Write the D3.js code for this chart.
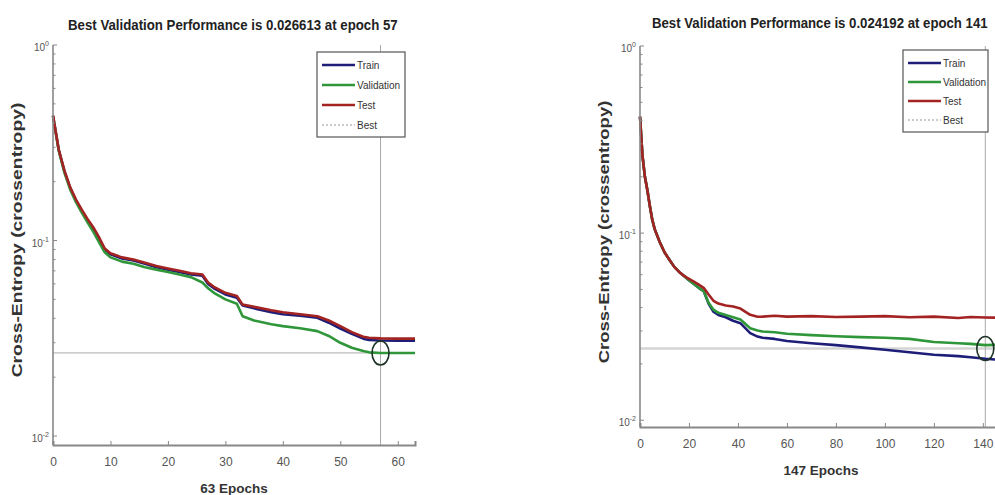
<!DOCTYPE html>
<html>
<head>
<meta charset="utf-8">
<script src="https://cdnjs.cloudflare.com/ajax/libs/d3/7.8.5/d3.min.js"></script>
<style>
body { margin: 0; background: #fff; }
svg { display: block; font-family: "Liberation Sans", Arial, sans-serif; }
</style>
</head>
<body>
<script>
// ---- left run (63 epochs) ----
var epochsA = [0, 1, 2, 3, 4, 5, 6, 7, 8, 9, 10, 12, 14, 16, 18, 20, 22, 24, 26, 27, 28, 30, 32, 33, 35, 38, 40, 43, 46, 48, 50, 52, 54, 55, 57, 60, 63];
var trainA = [0.434, 0.29, 0.225, 0.185, 0.16, 0.142, 0.127, 0.115, 0.102, 0.09, 0.085, 0.081, 0.079, 0.076, 0.073, 0.071, 0.069, 0.067, 0.066, 0.06, 0.057, 0.053, 0.051, 0.0465, 0.045, 0.043, 0.042, 0.0412, 0.0403, 0.038, 0.0355, 0.0333, 0.0315, 0.031, 0.0308, 0.0307, 0.0307];
var validA = [0.434, 0.288, 0.222, 0.182, 0.157, 0.139, 0.124, 0.111, 0.098, 0.087, 0.082, 0.078, 0.076, 0.073, 0.071, 0.069, 0.067, 0.065, 0.061, 0.057, 0.054, 0.05, 0.0475, 0.041, 0.039, 0.0373, 0.0365, 0.0356, 0.0344, 0.0325, 0.03, 0.0283, 0.0272, 0.0268, 0.0266, 0.0266, 0.0266];
var testA = [0.436, 0.292, 0.227, 0.187, 0.162, 0.144, 0.129, 0.117, 0.104, 0.091, 0.086, 0.082, 0.08, 0.077, 0.074, 0.072, 0.07, 0.068, 0.067, 0.061, 0.058, 0.054, 0.052, 0.047, 0.0458, 0.044, 0.043, 0.042, 0.041, 0.039, 0.0365, 0.034, 0.0322, 0.0318, 0.0316, 0.0315, 0.0315];
var bestEpochA = 57, bestValA = 0.026613;
var xTicksA = [0, 10, 20, 30, 40, 50, 60];

// ---- right run (147 epochs) ----
var epochsB = [0, 1, 2, 3, 4, 5, 6, 8, 10, 12, 14, 16, 18, 20, 22, 24, 26, 28, 30, 32, 35, 38, 41, 45, 48, 50, 55, 60, 70, 80, 90, 100, 110, 120, 130, 135, 141, 147];
var trainB = [0.419, 0.26, 0.2, 0.17, 0.14, 0.118, 0.105, 0.09, 0.079, 0.072, 0.066, 0.062, 0.059, 0.056, 0.0535, 0.051, 0.049, 0.042, 0.038, 0.0365, 0.0355, 0.034, 0.033, 0.0292, 0.028, 0.0276, 0.0272, 0.0265, 0.0258, 0.0252, 0.0245, 0.0238, 0.0231, 0.0224, 0.022, 0.0217, 0.0213, 0.021];
var validB = [0.419, 0.26, 0.2, 0.17, 0.14, 0.118, 0.105, 0.09, 0.079, 0.072, 0.066, 0.062, 0.059, 0.056, 0.0535, 0.051, 0.049, 0.0425, 0.039, 0.0375, 0.0365, 0.0355, 0.0345, 0.031, 0.0302, 0.0298, 0.0295, 0.029, 0.0285, 0.0281, 0.0278, 0.0276, 0.0272, 0.0262, 0.0258, 0.0256, 0.0252, 0.0253];
var testB = [0.419, 0.26, 0.2, 0.17, 0.14, 0.118, 0.105, 0.09, 0.079, 0.072, 0.066, 0.062, 0.059, 0.057, 0.055, 0.053, 0.051, 0.047, 0.0435, 0.042, 0.041, 0.0405, 0.0395, 0.0366, 0.0357, 0.0358, 0.0362, 0.0358, 0.036, 0.0356, 0.0358, 0.036, 0.0355, 0.0358, 0.0352, 0.0356, 0.0354, 0.0353];
var bestEpochB = 141, bestValB = 0.024192;
var xTicksB = [0, 20, 40, 60, 80, 100, 120, 140];

// shared
var yTicks = [1, 0.1, 0.01];
var yTickExp = ["0", "-1", "-2"];
var legendNames = ["Train", "Validation", "Test", "Best"];
var color = { Train: "#1e1e78", Validation: "#2f973a", Test: "#a32323", Best: "#999" };

var svg = d3.select("body").append("svg")
  .attr("width", 995)
  .attr("height", 495);

// squeeze a text horizontally so it spans exactly w pixels
function fitText(sel, x, y, w, rotate) {
  var natural = sel.node().getComputedTextLength();
  var s = w / natural;
  if (rotate) sel.attr("transform", "translate(" + x + "," + y + ") rotate(-90) scale(" + s + ",1)");
  else sel.attr("transform", "translate(" + x + "," + y + ") scale(" + s + ",1)");
}

function drawPanel(p) {
  var g = svg.append("g");

  // scales
  var x = d3.scaleLinear().domain([0, p.xMax]).range([p.left, p.right]);
  var y = d3.scaleLog().domain([p.yMin, 1]).range([p.bottom, p.top]);

  // best lines (drawn under the curves)
  g.append("line")
    .attr("x1", p.left).attr("x2", p.right)
    .attr("y1", y(p.bestVal)).attr("y2", y(p.bestVal))
    .attr("stroke", p.bestColor).attr("stroke-width", p.bestWidth);
  g.append("line")
    .attr("x1", x(p.bestEpoch)).attr("x2", x(p.bestEpoch))
    .attr("y1", p.top).attr("y2", p.bottom)
    .attr("stroke", "#aaa").attr("stroke-width", 1);

  // curves
  var line = d3.line()
    .x(function(d) { return x(d[0]); })
    .y(function(d) { return y(d[1]); });
  [["Train", p.train], ["Validation", p.valid], ["Test", p.test]].forEach(function(s) {
    g.append("path")
      .datum(d3.zip(p.epochs, s[1]))
      .attr("fill", "none")
      .attr("stroke", color[s[0]])
      .attr("stroke-width", 2.6)
      .attr("stroke-linejoin", "round")
      .attr("d", line);
  });

  // best marker
  g.append("ellipse")
    .attr("cx", x(p.bestEpoch)).attr("cy", y(p.bestVal))
    .attr("rx", 8.5).attr("ry", 12)
    .attr("fill", "none").attr("stroke", "#1d3326").attr("stroke-width", 1.6);

  // x axis (ticks inward)
  var xAxis = d3.axisBottom(x).tickValues(p.xTicks).tickSize(-4).tickPadding(12);
  var gx = g.append("g")
    .attr("transform", "translate(0," + p.bottom + ")")
    .call(xAxis);
  gx.select(".domain").attr("stroke", "#888").attr("stroke-width", 2);
  gx.selectAll(".tick line").attr("stroke", "#888");
  gx.selectAll(".tick text")
    .attr("fill", "#555")
    .style("font-size", "12px");

  // y axis
  var gy = g.append("g");
  gy.append("line")
    .attr("x1", p.left).attr("x2", p.left)
    .attr("y1", p.top).attr("y2", p.bottom)
    .attr("stroke", "#888").attr("stroke-width", 1.6);
  var minor = [];
  [0.01, 0.1].forEach(function(dec) {
    for (var k = 2; k <= 9; k++) minor.push(dec * k);
  });
  gy.selectAll(".minor").data(minor.filter(function(v) { return v >= p.yMin; }))
    .enter().append("line")
    .attr("x1", p.left).attr("x2", p.left + 2.5)
    .attr("y1", function(d) { return y(d); }).attr("y2", function(d) { return y(d); })
    .attr("stroke", "#888");
  gy.selectAll(".major").data(yTicks)
    .enter().append("line")
    .attr("x1", p.left).attr("x2", p.left + 4)
    .attr("y1", function(d) { return y(d); }).attr("y2", function(d) { return y(d); })
    .attr("stroke", "#888");
  var lab = gy.selectAll(".ylab").data(yTicks)
    .enter().append("text")
    .attr("x", p.left - 4)
    .attr("y", function(d) { return y(d) + 6; })
    .attr("text-anchor", "end")
    .attr("fill", "#555")
    .style("font-size", "10px");
  lab.append("tspan").text("10");
  lab.append("tspan")
    .attr("dy", -5)
    .style("font-size", "7px")
    .text(function(d, i) { return yTickExp[i]; });

  // title and axis labels
  var title = g.append("text")
    .style("font-size", "15px").style("font-weight", "bold")
    .attr("fill", "#222")
    .text(p.title);
  fitText(title, p.titleX, p.titleY, p.titleLen, false);

  var ylab = g.append("text")
    .attr("text-anchor", "middle")
    .style("font-size", "14px").style("font-weight", "bold")
    .attr("fill", "#333")
    .text("Cross-Entropy  (crossentropy)");
  fitText(ylab, p.yLabX, p.yLabY, p.yLabLen, true);

  g.append("text")
    .attr("x", p.xLabX).attr("y", p.xLabY)
    .attr("text-anchor", "middle")
    .style("font-size", "13.5px").style("font-weight", "bold")
    .attr("fill", "#333")
    .text(p.xLabel);

  // legend
  var lg = g.append("g").attr("transform", "translate(" + p.legX + "," + p.legY + ")");
  lg.append("rect")
    .attr("width", p.legW).attr("height", p.legH)
    .attr("fill", "#fff").attr("stroke", "#555").attr("stroke-width", 1.2);
  var row = lg.selectAll(".row").data(legendNames)
    .enter().append("g")
    .attr("transform", function(d, i) { return "translate(0," + (13 + i * p.legStep) + ")"; });
  row.append("line")
    .attr("x1", 5).attr("x2", 38)
    .attr("stroke", function(d) { return color[d]; })
    .attr("stroke-width", function(d) { return d == "Best" ? 1 : 2.6; })
    .attr("stroke-dasharray", function(d) { return d == "Best" ? "2,2" : null; });
  row.append("text")
    .attr("x", 40).attr("y", 4)
    .style("font-size", "10px")
    .attr("fill", "#333")
    .text(function(d) { return d; });
}

drawPanel({
  left: 53, right: 415, top: 45, bottom: 445,
  xMax: 63, yMin: 0.009,
  epochs: epochsA, train: trainA, valid: validA, test: testA,
  bestEpoch: bestEpochA, bestVal: bestValA, xTicks: xTicksA,
  bestColor: "#aaa", bestWidth: 1,
  title: "Best Validation Performance is 0.026613 at epoch 57",
  titleX: 68, titleY: 30, titleLen: 330,
  yLabX: 22, yLabY: 240, yLabLen: 275,
  xLabel: "63 Epochs", xLabX: 234, xLabY: 493,
  legX: 317, legY: 52, legW: 88, legH: 85, legStep: 20
});

drawPanel({
  left: 640, right: 1000, top: 46, bottom: 427,
  xMax: 147, yMin: 0.0092,
  epochs: epochsB, train: trainB, valid: validB, test: testB,
  bestEpoch: bestEpochB, bestVal: bestValB, xTicks: xTicksB,
  bestColor: "#d4d4d4", bestWidth: 2.5,
  title: "Best Validation Performance is 0.024192 at epoch 141",
  titleX: 652, titleY: 28, titleLen: 336,
  yLabX: 609, yLabY: 232, yLabLen: 263,
  xLabel: "147 Epochs", xLabX: 821, xLabY: 475,
  legX: 903, legY: 50, legW: 85, legH: 82, legStep: 19
});
</script>
</body>
</html>
